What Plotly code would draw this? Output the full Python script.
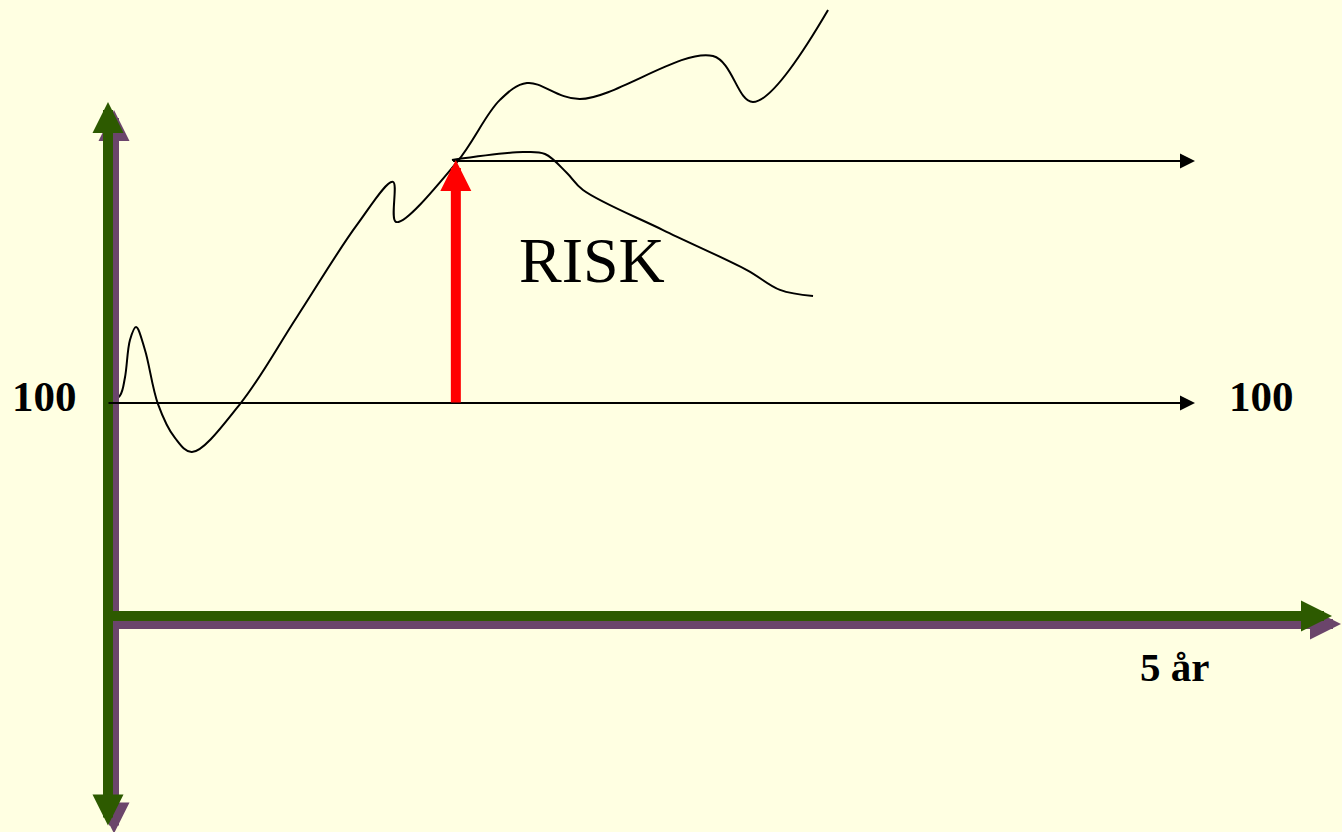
import plotly.graph_objects as go

# ---------------- data (x in years, y as index value, start = 100) ----------------
main_t = [0.0, 0.055, 0.078, 0.101, 0.129, 0.170, 0.230, 0.308, 0.386, 0.607,
          0.869, 1.145, 1.311, 1.325, 1.605, 1.803, 1.927, 2.171, 2.783, 2.967, 3.312]
main_v = [100.0, 103.5, 112.0, 129.6, 135.7, 124.9, 99.5, 83.6, 77.0, 99.5,
          140.4, 183.6, 203.8, 185.0, 213.1, 242.3, 250.2, 242.7, 262.9, 241.3, 284.5]

drop_t = [1.582, 1.909, 2.010, 2.111, 2.185, 2.553, 2.939, 3.091, 3.243]
drop_v = [214.1, 217.8, 216.9, 208.0, 200.0, 181.2, 162.4, 153.1, 150.2]

start_value = 100.0
peak_value = 213.6
peak_time = 1.585
risk_time = 1.60
horizon_years = 5.0

label_start = "100"
label_end = "100"
label_horizon = "5 år"
label_risk = "RISK"

# ---------------- styling / geometry ----------------
W, H = 1342, 832
PX_X0, PX_PER_YEAR = 108.0, 217.4      # pixel of t=0, pixels per year
PX_Y100, PX_PER_UNIT = 403.0, 2.13     # pixel of value 100, pixels per unit

def tx(px):
    return (px - PX_X0) / PX_PER_YEAR

def vy(py):
    return 100.0 + (PX_Y100 - py) / PX_PER_UNIT

BG = "#FFFFE2"
GREEN = "#2D5A00"
PURPLE = "#6B456B"
RED = "#FF0000"
FONT = "Liberation Serif, Times New Roman, serif"

fig = go.Figure()

fig.add_trace(go.Scatter(x=main_t, y=main_v, mode="lines",
                         line=dict(color="black", width=2, shape="spline", smoothing=1.0),
                         hoverinfo="skip"))
fig.add_trace(go.Scatter(x=drop_t, y=drop_v, mode="lines",
                         line=dict(color="black", width=2, shape="spline", smoothing=1.0),
                         hoverinfo="skip"))

ann = []

def arrow(x0, y0, x1, y1, color, width, size, both=False):
    d = dict(x=x1, y=y1, ax=x0, ay=y0, xref="x", yref="y", axref="x", ayref="y",
             text="", showarrow=True, arrowhead=2, arrowsize=size, arrowwidth=width,
             arrowcolor=color, standoff=0, startstandoff=0, borderpad=0)
    if both:
        d.update(arrowside="end+start", startarrowhead=2, startarrowsize=size)
    ann.append(d)

# shadow offset (purple) in data units
sdx = 6 / PX_PER_YEAR
sdy = -8 / PX_PER_UNIT

y_axis_top = vy(102)
y_axis_bot = vy(826)
x_axis_end = tx(1332)
x_axis_val = vy(616)

# shadows
arrow(0 + sdx, y_axis_bot + sdy, 0 + sdx, y_axis_top + sdy, PURPLE, 10, 0.62, both=True)
arrow(0 + sdx, x_axis_val + sdy, x_axis_end + sdx * 1.5, x_axis_val + sdy, PURPLE, 10, 0.62)
# green axes
arrow(0, y_axis_bot, 0, y_axis_top, GREEN, 10, 0.62, both=True)
arrow(0, x_axis_val, x_axis_end, x_axis_val, GREEN, 10, 0.62)

# black reference arrows
arrow(0, start_value, horizon_years, start_value, "black", 2, 1.5)
arrow(peak_time, peak_value, horizon_years, peak_value, "black", 2, 1.5)

# red risk arrow
arrow(risk_time, start_value, risk_time, peak_value + 0.5, RED, 10, 0.62)

# texts
ann.append(dict(x=tx(44), y=vy(396), xref="x", yref="y", text="<b>%s</b>" % label_start,
                showarrow=False, font=dict(family=FONT, size=43, color="black")))
ann.append(dict(x=tx(1261), y=vy(396), xref="x", yref="y", text="<b>%s</b>" % label_end,
                showarrow=False, font=dict(family=FONT, size=43, color="black")))
ann.append(dict(x=tx(1174), y=vy(667), xref="x", yref="y", text="<b>%s</b>" % label_horizon,
                showarrow=False, font=dict(family=FONT, size=41, color="black")))
ann.append(dict(x=tx(592), y=vy(260), xref="x", yref="y", text=label_risk,
                showarrow=False, font=dict(family=FONT, size=64, color="black")))

fig.update_layout(
    width=W, height=H,
    margin=dict(l=0, r=0, t=0, b=0),
    paper_bgcolor=BG, plot_bgcolor=BG,
    showlegend=False,
    xaxis=dict(range=[tx(0), tx(W)], visible=False, fixedrange=True),
    yaxis=dict(range=[vy(H), vy(0)], visible=False, fixedrange=True),
    annotations=ann,
)

fig.write_html("out.html",
               config={"displayModeBar": False},
               post_script="document.body.style.margin='0';"
                           "document.body.style.background='%s';" % BG)
